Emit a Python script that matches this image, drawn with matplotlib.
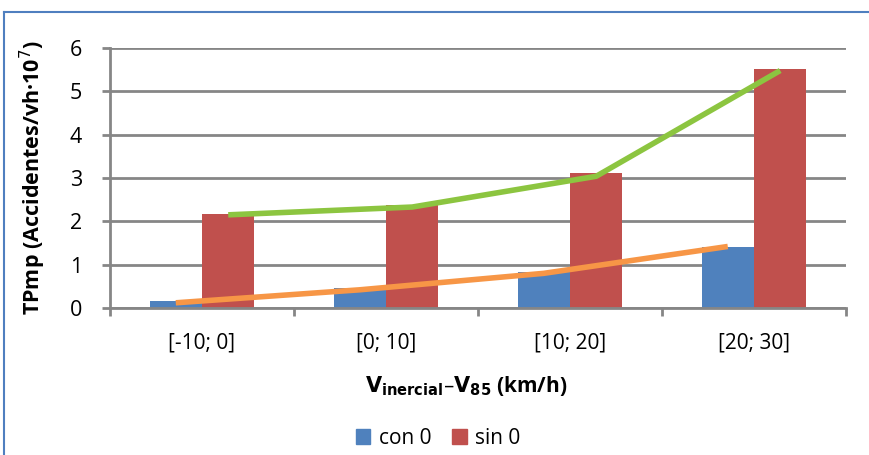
import matplotlib
matplotlib.use("Agg")
import matplotlib.pyplot as plt
import numpy as np
from matplotlib.lines import Line2D
from matplotlib.patches import Patch

plt.rcParams['font.family'] = ['Open Sans', 'DejaVu Sans']

categories = ["[-10; 0]", "[0; 10]", "[10; 20]", "[20; 30]"]
con0 = [0.17, 0.46, 0.82, 1.40]
sin0 = [2.17, 2.38, 3.12, 5.52]
trend_con0 = [0.12, 0.42, 0.80, 1.42]
trend_sin0 = [2.15, 2.33, 3.04, 5.48]
yticks = [0, 1, 2, 3, 4, 5, 6]

blue = "#4F81BD"
red = "#C0504D"
green = "#8CC540"
orange = "#F79646"
grid_gray = "#868686"

fig = plt.figure(figsize=(8.69, 4.55), dpi=100)
ax = fig.add_axes([110 / 869, 1 - 308 / 455, 736 / 869, 260 / 455])

x = np.arange(len(categories))
w = 0.285
ax.bar(x - w / 2, con0, width=w, color=blue, zorder=2)
ax.bar(x + w / 2, sin0, width=w, color=red, zorder=2)
ax.plot(x - w / 2, trend_con0, color=orange, lw=4, zorder=3, solid_capstyle='butt')
ax.plot(x + w / 2, trend_sin0, color=green, lw=4, zorder=3, solid_capstyle='butt')

ax.set_xlim(-0.5, 3.5)
ax.set_ylim(0, 6)
ax.set_yticks(yticks)
ax.set_yticklabels([str(v) for v in yticks], fontsize=15.5)
ax.yaxis.grid(True, color=grid_gray, lw=2, zorder=0)
ax.set_axisbelow(True)
ax.set_xticks(x)
ax.set_xticklabels(categories, fontsize=15)
ax.set_xticks(np.arange(-0.5, 3.6, 1), minor=True)
ax.tick_params(axis='x', which='major', length=0, pad=18)
ax.tick_params(axis='x', which='minor', length=6, width=2, color=grid_gray)
ax.tick_params(axis='y', length=6, width=2, color=grid_gray, pad=14)

for s in ['top', 'right']:
    ax.spines[s].set_visible(False)
for s in ['left', 'bottom']:
    ax.spines[s].set_color(grid_gray)
    ax.spines[s].set_linewidth(2)

ax.set_ylabel("TPmp (Accidentes/vh·10$^{7}$)", fontsize=15.5, fontweight='bold', labelpad=16)
fig.text(466 / 869, 1 - 386 / 455,
         r"$\mathbf{V_{inercial}}$–$\mathbf{V_{85}}$ (km/h)",
         ha='center', va='center', fontsize=15, fontweight='bold')

handles = [Patch(color=blue, label="con 0"), Patch(color=red, label="sin 0")]
fig.legend(handles=handles, loc='center', bbox_to_anchor=(438 / 869, 1 - 438 / 455),
           ncol=2, frameon=False, fontsize=15, handlelength=0.7, handleheight=0.7,
           handletextpad=0.4, columnspacing=1.0)

# outer frame (top and left edges)
fig.add_artist(Line2D([4 / 869, 1], [1 - 12 / 455, 1 - 12 / 455], color="#4F7FBF", lw=1.5,
                      transform=fig.transFigure))
fig.add_artist(Line2D([4 / 869, 4 / 869], [0, 1 - 12 / 455], color="#4F7FBF", lw=1.5,
                      transform=fig.transFigure))

fig.savefig("out.png", dpi=100)
